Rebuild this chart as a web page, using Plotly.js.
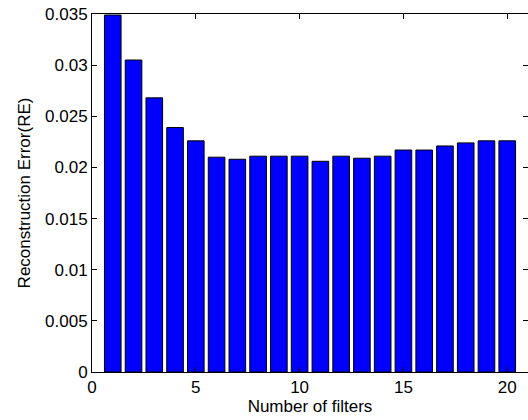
<!DOCTYPE html>
<html>
<head>
<meta charset="utf-8">
<script src="https://cdn.plot.ly/plotly-3.0.1.min.js"></script>
<style>html,body{margin:0;padding:0;background:#fff;}#chart{width:528px;height:420px;}</style>
</head>
<body>
<div id="chart"></div>
<script>
var filters = [1,2,3,4,5,6,7,8,9,10,11,12,13,14,15,16,17,18,19,20];
var reconError = [0.0349,0.0305,0.0268,0.0239,0.0226,0.0210,0.0208,0.0211,0.0211,0.0211,0.0206,0.0211,0.0209,0.0211,0.0217,0.0217,0.0221,0.0224,0.0226,0.0226];
var yTicks = [0,0.005,0.01,0.015,0.02,0.025,0.03,0.035];
var yTickText = ["0","0.005","0.01","0.015","0.02","0.025","0.03","0.035"];
var xTicks = [0,5,10,15,20];

var font = {family: "Liberation Sans, Arial, sans-serif", size: 17, color: "#000"};

Plotly.newPlot("chart", [{
  type: "bar",
  x: filters,
  y: reconError,
  width: 0.8,
  marker: {color: "#0000FF", line: {color: "#000", width: 1}}
}], {
  width: 528, height: 420,
  margin: {l: 92, r: 0, t: 14, b: 48, pad: 0},
  paper_bgcolor: "#fff", plot_bgcolor: "#fff",
  font: font,
  showlegend: false,
  bargap: 0,
  xaxis: {
    range: [0, 21], tickvals: xTicks, ticktext: xTicks.map(String),
    ticks: "inside", ticklen: 5, tickcolor: "#000", tickwidth: 1,
    showline: true, linecolor: "#000", linewidth: 1, mirror: "ticks",
    showgrid: false, zeroline: false, tickfont: font,
    title: {text: "Number of filters", font: font, standoff: 3}
  },
  yaxis: {
    range: [0, 0.035], tickvals: yTicks, ticktext: yTickText,
    ticks: "inside", ticklen: 5, tickcolor: "#000", tickwidth: 1,
    showline: true, linecolor: "#000", linewidth: 1, mirror: "ticks",
    showgrid: false, zeroline: false, tickfont: font,
    title: {text: "Reconstruction Error(RE)", font: font, standoff: 10}
  }
}, {displayModeBar: false, staticPlot: true});
</script>
</body>
</html>
